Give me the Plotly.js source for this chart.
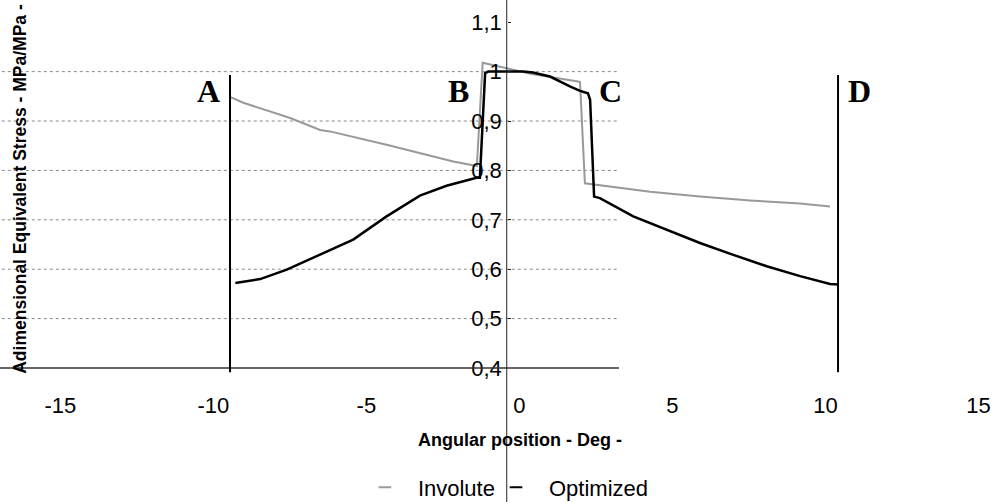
<!DOCTYPE html>
<html><head><meta charset="utf-8">
<script src="https://cdn.plot.ly/plotly-3.0.1.min.js"></script>
<style>html,body{margin:0;padding:0;background:#fff}#chart{width:994px;height:502px}</style>
</head><body><div id="chart"></div>
<script>
// Involute profile (grey)
const involuteX = [-9.46,-9.02,-7.49,-6.51,-6.19,-4.34,-2.16,-1.45,-1.39,-1.20,-0.905,-0.415,0.40,1.92,1.98,2.14,4.27,5.90,7.54,9.17,10.15];
const involuteY = [0.949,0.937,0.906,0.882,0.879,0.852,0.818,0.809,0.809,1.018,1.014,1.007,0.995,0.980,0.979,0.774,0.757,0.747,0.739,0.733,0.727];
// Optimized profile (black)
const optimizedX = [-9.28,-8.47,-7.60,-6.51,-5.43,-4.34,-3.25,-2.38,-1.40,-1.29,-1.12,-1.02,0.13,0.44,1.00,1.65,1.98,2.24,2.31,2.44,2.63,3.72,4.81,5.90,6.99,8.08,9.17,10.15,10.41];
const optimizedY = [0.572,0.580,0.599,0.629,0.660,0.707,0.749,0.769,0.785,0.785,0.997,1.000,1.000,0.998,0.990,0.970,0.961,0.956,0.943,0.747,0.744,0.707,0.680,0.653,0.629,0.606,0.586,0.570,0.569];

const xTickVals = [-15,-10,-5,0,5,10,15];
const xTickText = ['-15','-10','-5','0','5','10','15'];
const yTickVals = [0.4,0.5,0.6,0.7,0.8,0.9,1.0,1.1];
const yTickText = ['0,4','0,5','0,6','0,7','0,8','0,9','1','1,1'];
const gridValues = [0.5,0.6,0.7,0.8,0.9,1.0];

const zoneLineX = [-9.455, 10.41];
const zoneLabels = ['A','B','C','D'];
const zoneLabelX = [-10.17,-2.0,2.96,11.1];
const zoneLabelY = 0.96;

const sans = 'Liberation Sans, Arial, sans-serif';
const serif = 'Liberation Serif, Times New Roman, serif';

const traces = [
  {x: involuteX, y: involuteY, mode:'lines', line:{color:'#999999', width:2}, showlegend:false, hoverinfo:'skip'},
  {x: optimizedX, y: optimizedY, mode:'lines', line:{color:'#000000', width:2.5}, showlegend:false, hoverinfo:'skip'},
  {x:[null], y:[null], mode:'markers', name:'Involute', legend:'legend', marker:{symbol:'line-ew', size:9, color:'#999999', line:{width:2, color:'#999999'}}},
  {x:[null], y:[null], mode:'markers', name:'Optimized', legend:'legend2', marker:{symbol:'line-ew', size:9, color:'#000000', line:{width:2, color:'#000000'}}}
];

const shapes = [];
gridValues.forEach(v => shapes.push({type:'line', layer:'below', xref:'x', yref:'y', x0:-17.5, x1:3.254, y0:v, y1:v, line:{color:'#8a8a8a', width:1, dash:'dot'}}));
shapes.push({type:'line', xref:'x', yref:'paper', x0:-17.5, x1:3.254, y0:0, y1:0, line:{color:'#333', width:1.5}});
shapes.push({type:'line', xref:'paper', yref:'paper', x0:0.5098, x1:0.5098, y0:-0.37, y1:1.0, line:{color:'#222', width:1}});
zoneLineX.forEach(xv => shapes.push({type:'line', xref:'x', yref:'paper', x0:xv, x1:xv, y0:-0.0114, y1:0.7965, line:{color:'#000', width:2}}));

const annotations = [
  {text:'<b>Angular position - Deg -</b>', xref:'paper', yref:'paper', x:0.5236, y:-0.1967, xanchor:'center', yanchor:'middle', showarrow:false, font:{family:sans, size:18, color:'#000'}},
  {text:'<b>Adimensional Equivalent Stress - MPa/MPa -</b>', textangle:-90, xref:'paper', yref:'paper', x:0.0201, y:0.487, xanchor:'center', yanchor:'middle', showarrow:false, font:{family:sans, size:17.5, color:'#000'}}
];
zoneLabels.forEach((t,i) => annotations.push({text:'<b>'+t+'</b>', xref:'x', yref:'y', x:zoneLabelX[i], y:zoneLabelY, xanchor:'center', yanchor:'middle', showarrow:false, font:{family:serif, size:32, color:'#000'}}));

const legendBase = {orientation:'h', y:-0.3245, xanchor:'left', yanchor:'middle', font:{family:sans, size:22, color:'#000'},
                    itemwidth:56, bgcolor:'rgba(0,0,0,0)', borderwidth:0};

const layout = {
  width:994, height:502,
  margin:{l:0, r:0, t:0, b:133.5, pad:0, autoexpand:false},
  paper_bgcolor:'#fff', plot_bgcolor:'#fff',
  xaxis:{range:[-16.97,15.506], tickvals:xTickVals, ticktext:xTickText, ticks:'', showgrid:false, zeroline:false, showline:false,
         tickfont:{family:sans, size:22, color:'#000'}, ticklabelstandoff:22, fixedrange:true},
  yaxis:{range:[0.4,1.145], anchor:'free', position:0.5098, side:'left', tickvals:yTickVals, ticktext:yTickText,
         ticks:'inside', ticklen:3, tickcolor:'#222', showgrid:false, zeroline:false, showline:false,
         tickfont:{family:sans, size:22, color:'#000'}, ticklabelstandoff:5, fixedrange:true},
  showlegend:true,
  legend:Object.assign({}, legendBase, {x:0.354}),
  legend2:Object.assign({}, legendBase, {x:0.4859}),
  shapes:shapes, annotations:annotations
};

Plotly.newPlot('chart', traces, layout, {displayModeBar:false, staticPlot:true});
</script>
</body></html>
